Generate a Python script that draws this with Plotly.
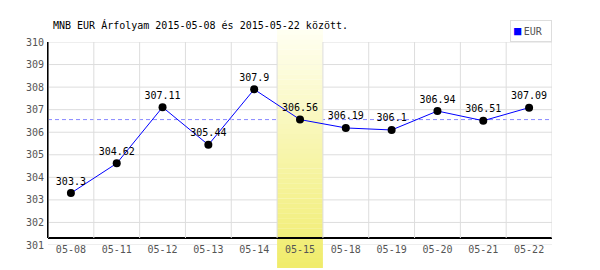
import plotly.graph_objects as go

# ---- data ----
dates = ["05-08", "05-11", "05-12", "05-13", "05-14", "05-15",
         "05-18", "05-19", "05-20", "05-21", "05-22"]
rates = [303.3, 304.62, 307.11, 305.44, 307.9, 306.56,
         306.19, 306.1, 306.94, 306.51, 307.09]
labels = ["303.3", "304.62", "307.11", "305.44", "307.9", "306.56",
          "306.19", "306.1", "306.94", "306.51", "307.09"]
highlight = "05-15"
y_ticks = list(range(301, 311))
title_text = "MNB EUR Árfolyam 2015-05-08 és 2015-05-22 között."
series_name = "EUR"

MONO = "DejaVu Sans Mono"
n = len(dates)
ymin, ymax = 301, 310
axis_y = 301.31

fig = go.Figure()
fig.add_trace(go.Scatter(
    x=dates, y=rates, mode="lines+markers+text",
    line=dict(color="#0000ff", width=1),
    marker=dict(color="#000000", size=8),
    text=labels, textposition="top center",
    textfont=dict(family=MONO, size=10, color="#000000"),
    showlegend=False, hoverinfo="x+y", cliponaxis=False,
))

shapes = []
# horizontal gridlines
for v in y_ticks:
    shapes.append(dict(type="line", xref="paper", yref="y", x0=0, x1=1,
                       y0=v, y1=v, line=dict(color="#dddddd", width=1),
                       layer="below"))
# vertical gridlines at category boundaries
for i in range(n + 1):
    shapes.append(dict(type="line", xref="x", yref="y",
                       x0=i - 0.5, x1=i - 0.5, y0=axis_y, y1=ymax,
                       line=dict(color="#dddddd", width=1), layer="below"))
# dashed reference line at highlighted day value
hi = dates.index(highlight)
shapes.append(dict(type="line", xref="paper", yref="y", x0=0, x1=1,
                   y0=rates[hi], y1=rates[hi],
                   line=dict(color="#8888ff", width=1, dash="4px,3px"),
                   layer="below"))
# gradient highlight band
top_px, bot_px = 30, 268
plot_top, plot_bot = 42, 245
ph = plot_bot - plot_top
def py(px):
    return (plot_bot - px) / ph
c_top = (255, 255, 242)
c_bot = (240, 236, 106)
N = 48
for k in range(N):
    t = (k + 0.5) / N
    c = tuple(int(round(c_top[j] + (c_bot[j] - c_top[j]) * t)) for j in range(3))
    y_hi = top_px + (bot_px - top_px) * k / N
    y_lo = top_px + (bot_px - top_px) * (k + 1) / N
    shapes.append(dict(type="rect", xref="paper", yref="paper",
                       x0=hi / n, x1=(hi + 1) / n, y0=py(y_lo), y1=py(y_hi) + 0.001,
                       fillcolor="rgb(%d,%d,%d)" % c, line=dict(width=0),
                       layer="below"))
# axis lines
shapes.append(dict(type="line", xref="paper", yref="y", x0=0, x1=1,
                   y0=axis_y, y1=axis_y, line=dict(color="#000000", width=2),
                   layer="between"))
shapes.append(dict(type="line", xref="paper", yref="y", x0=0, x1=0,
                   y0=axis_y, y1=ymax, line=dict(color="#000000", width=2),
                   layer="between"))

fig.update_layout(
    width=600, height=270,
    margin=dict(l=48, r=48, t=plot_top, b=270 - plot_bot, pad=0),
    paper_bgcolor="#ffffff", plot_bgcolor="#ffffff",
    title=dict(text=title_text, x=53 / 600, xanchor="left",
               y=1 - 25 / 270, yanchor="middle",
               font=dict(family=MONO, size=10, color="#000000")),
    xaxis=dict(type="category", categoryarray=dates, range=[-0.5, n - 0.5],
               showgrid=False, showline=False, zeroline=False, ticks="",
               tickfont=dict(family=MONO, size=10, color="#555555"),
               ticklabelstandoff=-3),
    yaxis=dict(range=[ymin, ymax], tickvals=y_ticks, showgrid=False,
               zeroline=False, showline=False,
               ticks="", tickfont=dict(family=MONO, size=10, color="#555555"),
               ticklabelstandoff=3),
    shapes=shapes,
    annotations=[dict(
        text='<span style="color:#0000ff;font-size:12px">■</span><span style="font-size:4px">\u00a0</span><span style="color:#555555">' + series_name + '</span>\u00a0',
        xref="paper", yref="paper", x=1, y=py(20), xanchor="right", yanchor="top",
        showarrow=False, bordercolor="#dddddd", borderwidth=1, borderpad=3,
        bgcolor="#ffffff", font=dict(family=MONO, size=10))],
    showlegend=False,
)

fig.write_html("out.html")
